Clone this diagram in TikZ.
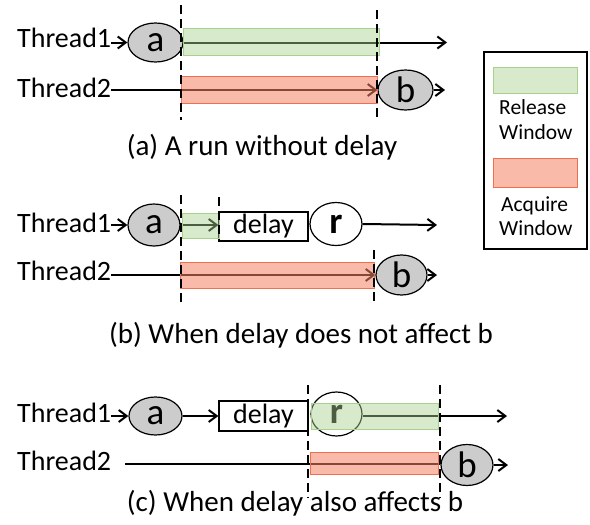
\documentclass[tikz,border=0pt]{standalone}
\usepackage{fontspec}
\setmainfont{Carlito}
\usetikzlibrary{shapes.geometric,arrows.meta}
\definecolor{relgreen}{RGB}{169,209,142}
\definecolor{acqred}{RGB}{244,130,100}
\definecolor{acqedge}{RGB}{238,112,80}
\definecolor{evgray}{RGB}{204,204,204}
\tikzset{
  lbl/.style={inner sep=0pt, font=\fontsize{28}{30}\selectfont},
  captiontext/.style={inner sep=0pt, font=\fontsize{29}{31}\selectfont},
  leg/.style={inner sep=0pt, anchor=base west, font=\fontsize{21.5}{23}\selectfont},
  ev/.style={ellipse, draw, line width=1.2pt, inner sep=0pt, fill=evgray, font=\fontsize{37}{38}\selectfont},
  evr/.style={ellipse, draw, line width=1.2pt, inner sep=0pt, fill=white, font=\fontsize{37}{38}\selectfont\bfseries},
  delaybox/.style={rectangle, draw, line width=1.2pt, inner sep=0pt, font=\fontsize{28}{30}\selectfont},
  arr/.style={line width=2pt, -{Straight Barb[length=8pt,width=12pt,line width=2pt]}},
  plain/.style={line width=2pt},
  sep/.style={line width=2pt, dash pattern=on 9pt off 5pt},
  relwin/.style={fill=relgreen, fill opacity=0.45, draw=relgreen, line width=1pt},
  acqwin/.style={fill=acqred, fill opacity=0.55, draw=acqedge, line width=1pt},
}
\begin{document}
\begin{tikzpicture}[x=1pt,y=-1pt]
\useasboundingbox (0,0) rectangle (590,525);

% ---------- (a) a run without delay ----------
\node[lbl, anchor=base west] (t1a) at (17,47) {Thread1};
\node[ev, minimum width=55pt, minimum height=39pt] (a1) at (155.5,42.5) {a};
\coordinate (e1a) at (447,42.5);
\draw[arr] (t1a.east |- a1.west) -- (a1.west);
\draw[arr] (a1.east) -- (e1a);
\draw[relwin] (183,28) rectangle (379,55);

\node[lbl, anchor=base west] (t2a) at (17,97) {Thread2};
\node[ev, minimum width=55pt, minimum height=40pt] (b1) at (405.5,90) {b};
\coordinate (e2a) at (445,90);
\draw[arr] (t2a.east |- b1.west) -- (b1.west);
\draw[arr] (b1.east) -- (e2a);
\draw[acqwin] (181,76) rectangle (377,103);

\draw[sep] (181,5) -- (181,120);
\draw[sep] (377,10) -- (377,120);
\node[captiontext] (capa) at (262,147) {(a) A run without delay};

% ---------- (b) delay does not affect b ----------
\node[lbl, anchor=base west] (t1b) at (17,232) {Thread1};
\node[ev, minimum width=52pt, minimum height=42pt] (a2) at (154,225) {a};
\node[delaybox, minimum width=89pt, minimum height=29pt] (d2) at (263.5,226.5) {delay};
\node[evr, minimum width=52pt, minimum height=43pt] (r2) at (336,224) {r};
\coordinate (e1b) at (437,225);
\draw[arr] (t1b.east |- a2.west) -- (a2.west);
\draw[arr] (a2.east) -- (d2.west |- a2.east);
\draw[arr] (r2.east) -- (e1b);
\draw[relwin] (182,213) rectangle (219,238);

\node[lbl, anchor=base west] (t2b) at (17,280) {Thread2};
\node[ev, minimum width=51pt, minimum height=40pt] (b2) at (401.5,275) {b};
\coordinate (e2b) at (437,275);
\draw[arr] (t2b.east |- b2.west) -- (b2.west);
\draw[arr] (b2.east) -- (e2b);
\draw[acqwin] (180,262) rectangle (374,288);

\draw[sep] (181,195) -- (181,306);
\draw[sep] (219,197) -- (219,242);
\draw[sep] (374,250) -- (374,302);
\node[captiontext] (capb) at (301,335) {(b) When delay does not affect b};

% ---------- (c) delay also affects b ----------
\node[lbl, anchor=base west] (t1c) at (17,422) {Thread1};
\node[ev, minimum width=53pt, minimum height=38pt] (a3) at (155.5,416) {a};
\node[delaybox, minimum width=89pt, minimum height=30pt] (d3) at (263.5,416) {delay};
\node[evr, minimum width=51pt, minimum height=44pt] (r3) at (336.5,414) {r};
\coordinate (e1c) at (507,416);
\draw[arr] (t1c.east |- a3.west) -- (a3.west);
\draw[arr] (a3.east) -- (d3.west);
\draw[arr] (r3.east |- e1c) -- (e1c);
\draw[relwin] (311,403) rectangle (438,429);

\node[lbl, anchor=base west] (t2c) at (17,470) {Thread2};
\node[ev, minimum width=52pt, minimum height=41pt] (b3) at (467,465) {b};
\coordinate (s2c) at (125,464);
\coordinate (e2c) at (508,465);
\draw[plain] (s2c) -- (b3.west |- s2c);
\draw[arr] (b3.east) -- (e2c);
\draw[acqwin] (310,452) rectangle (438,474);

\draw[sep] (308,385) -- (308,498);
\draw[sep] (440,385) -- (440,498);
\node[captiontext] (capc) at (295,503) {(c) When delay also affects b};

% ---------- legend ----------
\node[draw, line width=1.2pt, minimum width=103pt, minimum height=197pt, inner sep=0pt] (legend) at (535.5,150.5) {};
\draw[relwin] (493,67) rectangle (577,93);
\node[leg] (lrel1) at (499,114) {Release};
\node[leg] (lrel2) at (499,139) {Window};
\draw[acqwin] (493,158) rectangle (577,187);
\node[leg] (lacq1) at (501,211) {Acquire};
\node[leg] (lacq2) at (499,235) {Window};
\end{tikzpicture}
\end{document}
